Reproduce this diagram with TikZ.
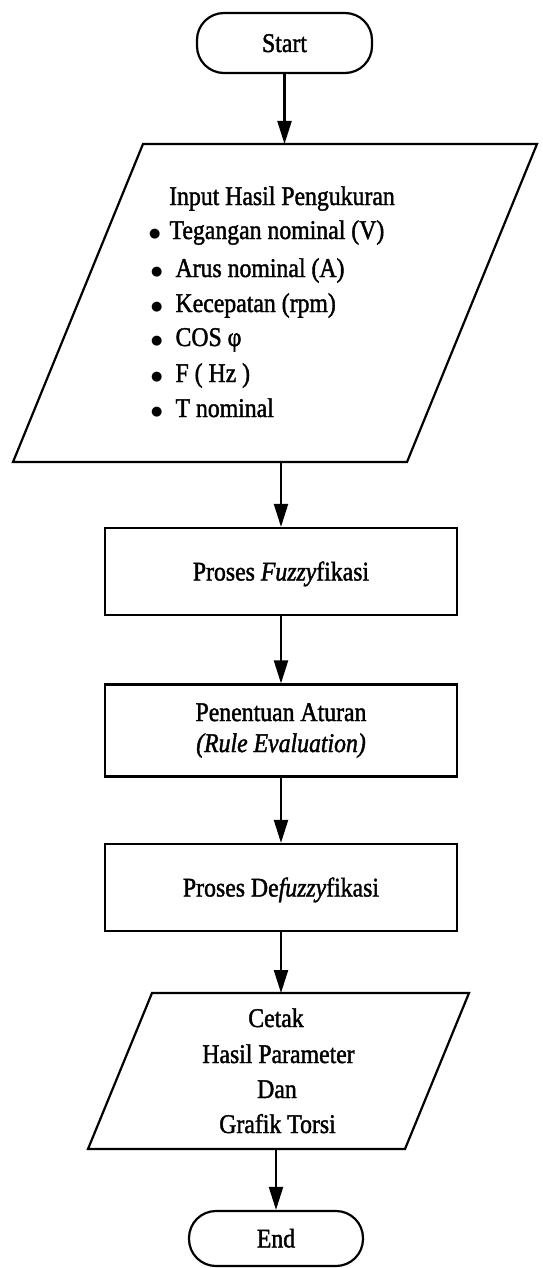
\documentclass[tikz,border=0pt]{standalone}
\usepackage{fontspec}
\setmainfont{Liberation Serif}[FakeStretch=0.88,FakeBold=1.5]
\newfontfamily\dotfont{DejaVu Sans}
\usetikzlibrary{arrows.meta}
\newcommand{\bigdot}{\raisebox{1.5pt}{\dotfont\fontsize{13}{13}\selectfont ●}}
\begin{document}
\begin{tikzpicture}[x=1pt,y=-1pt,
  every node/.style={font=\fontsize{27}{31}\selectfont, inner sep=0pt},
  shapeline/.style={draw=black, line width=2.2pt, line join=miter},
  term/.style={shapeline, rounded corners=27pt, text height=18pt, text depth=0pt},
  proc/.style={shapeline, minimum width=352pt},
  oneline/.style={text height=18pt, text depth=0pt},
  flow/.style={line width=2.2pt, -{Triangle[width=14pt,length=23pt]}},
  txt/.style={anchor=base},
  item/.style={anchor=base west}
]
\useasboundingbox (0,0) rectangle (542,1268);

% terminals
\node[term, minimum width=175pt, minimum height=60pt] (start) at (284.5,43) {Start};
\node[term, minimum width=174pt, minimum height=55pt] (end) at (276,1238.5) {End};

% input parallelogram
\draw[shapeline] (143,144) -- (537,144) -- (407,462) -- (13,462) -- cycle;
\coordinate (inN) at (284.5,144);
\coordinate (inS) at (281,462);
\node[txt] (inTitle) at (282,205) {Input Hasil Pengukuran};
\node[item] (i1) at (149,239) {\bigdot\hspace{9pt}Tegangan nominal (V)};
\node[item] (i2) at (151,277) {\bigdot\hspace{13pt}Arus nominal (A)};
\node[item] (i3) at (151,312) {\bigdot\hspace{13pt}Kecepatan (rpm)};
\node[item] (i4) at (151,346) {\bigdot\hspace{13pt}COS φ};
\node[item] (i5) at (151,382) {\bigdot\hspace{13pt}F ( Hz )};
\node[item] (i6) at (151,417) {\bigdot\hspace{13pt}T nominal};

% process boxes
\node[proc, oneline, minimum height=87pt] (fuzz) at (281,571.5) {Proses \textit{Fuzzy}fikasi};
\node[proc, minimum height=92pt, align=center] (rule) at (281,730.5)
  {Penentuan Aturan\\\textit{(Rule Evaluation)}};
\node[proc, oneline, minimum height=87pt] (defuzz) at (281,887.5) {Proses De\textit{fuzzy}fikasi};

% output parallelogram
\draw[shapeline] (152,993) -- (469,993) -- (405,1149) -- (88,1149) -- cycle;
\coordinate (outN) at (281,993);
\coordinate (outS) at (276,1149);
\node[txt] (o1) at (276,1027) {Cetak};
\node[txt] (o2) at (278.5,1063) {Hasil Parameter};
\node[txt] (o3) at (277,1098) {Dan};
\node[txt] (o4) at (277.5,1133) {Grafik Torsi};

% connectors
\draw[flow] (start) -- (inN);
\draw[flow] (inS) -- (fuzz);
\draw[flow] (fuzz) -- (rule);
\draw[flow] (rule) -- (defuzz);
\draw[flow] (defuzz) -- (outN);
\draw[flow] (outS) -- (end);
\end{tikzpicture}
\end{document}
